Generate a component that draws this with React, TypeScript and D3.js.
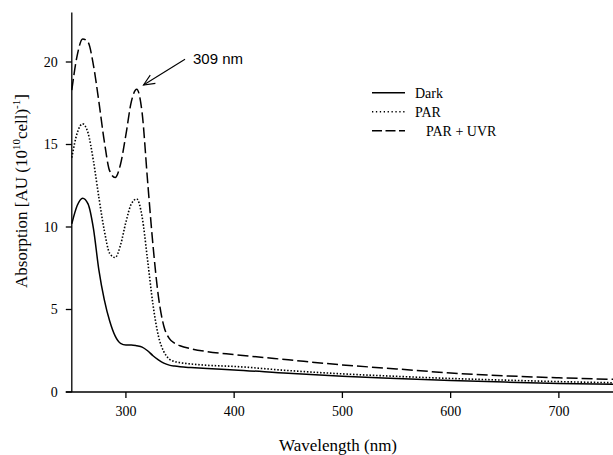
import React from "react";
import * as d3 from "d3";

const wavelengths = [250, 255, 260, 265, 270, 275, 280, 285, 290, 295, 300, 305, 310, 315, 320, 325, 330, 335, 340, 345, 350, 360, 375, 400, 450, 500, 550, 600, 650, 700, 750];
const dark = [10.2, 11.3, 11.75, 11.4, 9.9, 7.4, 5.6, 4.3, 3.4, 2.95, 2.85, 2.85, 2.8, 2.72, 2.5, 2.2, 1.95, 1.75, 1.63, 1.57, 1.53, 1.48, 1.42, 1.34, 1.13, 0.95, 0.82, 0.7, 0.6, 0.52, 0.47];
const par = [14.2, 15.7, 16.25, 15.7, 14.0, 11.8, 9.8, 8.4, 8.15, 8.9, 10.3, 11.4, 11.7, 10.6, 8.0, 5.3, 3.4, 2.45, 2.0, 1.85, 1.78, 1.7, 1.62, 1.55, 1.3, 1.1, 0.95, 0.82, 0.72, 0.63, 0.56];
const parUvr = [18.3, 20.4, 21.4, 21.2, 19.8, 17.6, 15.2, 13.4, 13.0, 13.8, 15.6, 17.6, 18.35, 16.9, 12.8, 8.9, 5.8, 4.0, 3.25, 2.95, 2.8, 2.62, 2.45, 2.27, 1.95, 1.64, 1.4, 1.15, 0.98, 0.86, 0.77];

const xTicks = [300, 400, 500, 600, 700];
const yTicks = [0, 5, 10, 15, 20];
const seriesNames = ["Dark", "PAR", "PAR + UVR"];

const serifStyle = { fontFamily: '"Liberation Serif", "DejaVu Serif", "Times New Roman", serif' };
const sansStyle = { fontFamily: '"Liberation Sans", Arial, sans-serif' };

export default function App() {
  const x = d3.scaleLinear().domain([250, 750]).range([71.8, 613]);
  const y = d3.scaleLinear().domain([0, 23]).range([392, 12.5]);

  const line = d3
    .line<number>()
    .x((_, i) => x(wavelengths[i]))
    .y((d) => y(d))
    .curve(d3.curveMonotoneX);

  const styles = [
    { dash: undefined, width: 1.5 },
    { dash: "1.5,1.8", width: 1.6 },
    { dash: "11,4", width: 1.5 },
  ];
  const data = [dark, par, parUvr];

  const x0 = x.range()[0];
  const y0 = y(0);

  const ax1 = 185, ay1 = 59.3, ax2 = 143.5, ay2 = 85;
  const ang = Math.atan2(ay1 - ay2, ax1 - ax2);
  const headLen = 12, headAng = (24 * Math.PI) / 180;
  const h1x = ax2 + headLen * Math.cos(ang + headAng);
  const h1y = ay2 + headLen * Math.sin(ang + headAng);
  const h2x = ax2 + headLen * Math.cos(ang - headAng);
  const h2y = ay2 + headLen * Math.sin(ang - headAng);

  const legendY = [92.7, 111.7, 130.7];

  return (
    <svg
      width={613}
      height={455}
      style={{ position: "absolute", left: 0, top: 0, background: "#fff" }}
    >
      <rect x={0} y={0} width={613} height={455} fill="#fff" />
      {data.map((d, i) => (
        <path
          key={i}
          d={line(d) || ""}
          fill="none"
          stroke="#000"
          strokeWidth={styles[i].width}
          strokeDasharray={styles[i].dash}
        />
      ))}

      <line x1={x0} x2={x0} y1={y(23)} y2={y0} stroke="#000" strokeWidth={1.3} />
      <line x1={x0 - 6} x2={613} y1={y0} y2={y0} stroke="#000" strokeWidth={1.3} />
      {yTicks.map((t) => (
        <g key={t}>
          <line x1={x0 - 6} x2={x0} y1={y(t)} y2={y(t)} stroke="#000" strokeWidth={1.3} />
          <text x={x0 - 14} y={y(t)} dy="0.35em" textAnchor="end" style={serifStyle} fontSize={14}>
            {t}
          </text>
        </g>
      ))}
      {xTicks.map((t) => (
        <g key={t}>
          <line x1={x(t)} x2={x(t)} y1={y0} y2={y0 + 6} stroke="#000" strokeWidth={1.3} />
          <text x={x(t)} y={415.5} textAnchor="middle" style={serifStyle} fontSize={14}>
            {t}
          </text>
        </g>
      ))}

      <text x={338} y={451} textAnchor="middle" style={serifStyle} fontSize={17}>
        Wavelength (nm)
      </text>
      <text transform="translate(27,191) rotate(-90)" textAnchor="middle" style={serifStyle} fontSize={17}>
        Absorption [AU (10
        <tspan fontSize={11} dy={-7}>10</tspan>
        <tspan dy={7}>cell)</tspan>
        <tspan fontSize={11} dy={-7}>-1</tspan>
        <tspan dy={7}>]</tspan>
      </text>

      {seriesNames.map((n, i) => (
        <g key={n}>
          <line
            x1={372}
            x2={405}
            y1={legendY[i]}
            y2={legendY[i]}
            stroke="#000"
            strokeWidth={styles[i].width}
            strokeDasharray={i === 1 ? "1.3,2.6" : i === 2 ? "10,3.5" : undefined}
          />
          <text x={i === 2 ? 426 : 415} y={legendY[i] + 5} style={serifStyle} fontSize={14}>
            {n}
          </text>
        </g>
      ))}

      <line x1={ax1} y1={ay1} x2={ax2} y2={ay2} stroke="#000" strokeWidth={1.1} />
      <polyline
        points={`${h1x},${h1y} ${ax2},${ay2} ${h2x},${h2y}`}
        fill="none"
        stroke="#000"
        strokeWidth={1.1}
      />
      <text x={193} y={64} style={sansStyle} fontSize={15}>
        309 nm
      </text>
    </svg>
  );
}
